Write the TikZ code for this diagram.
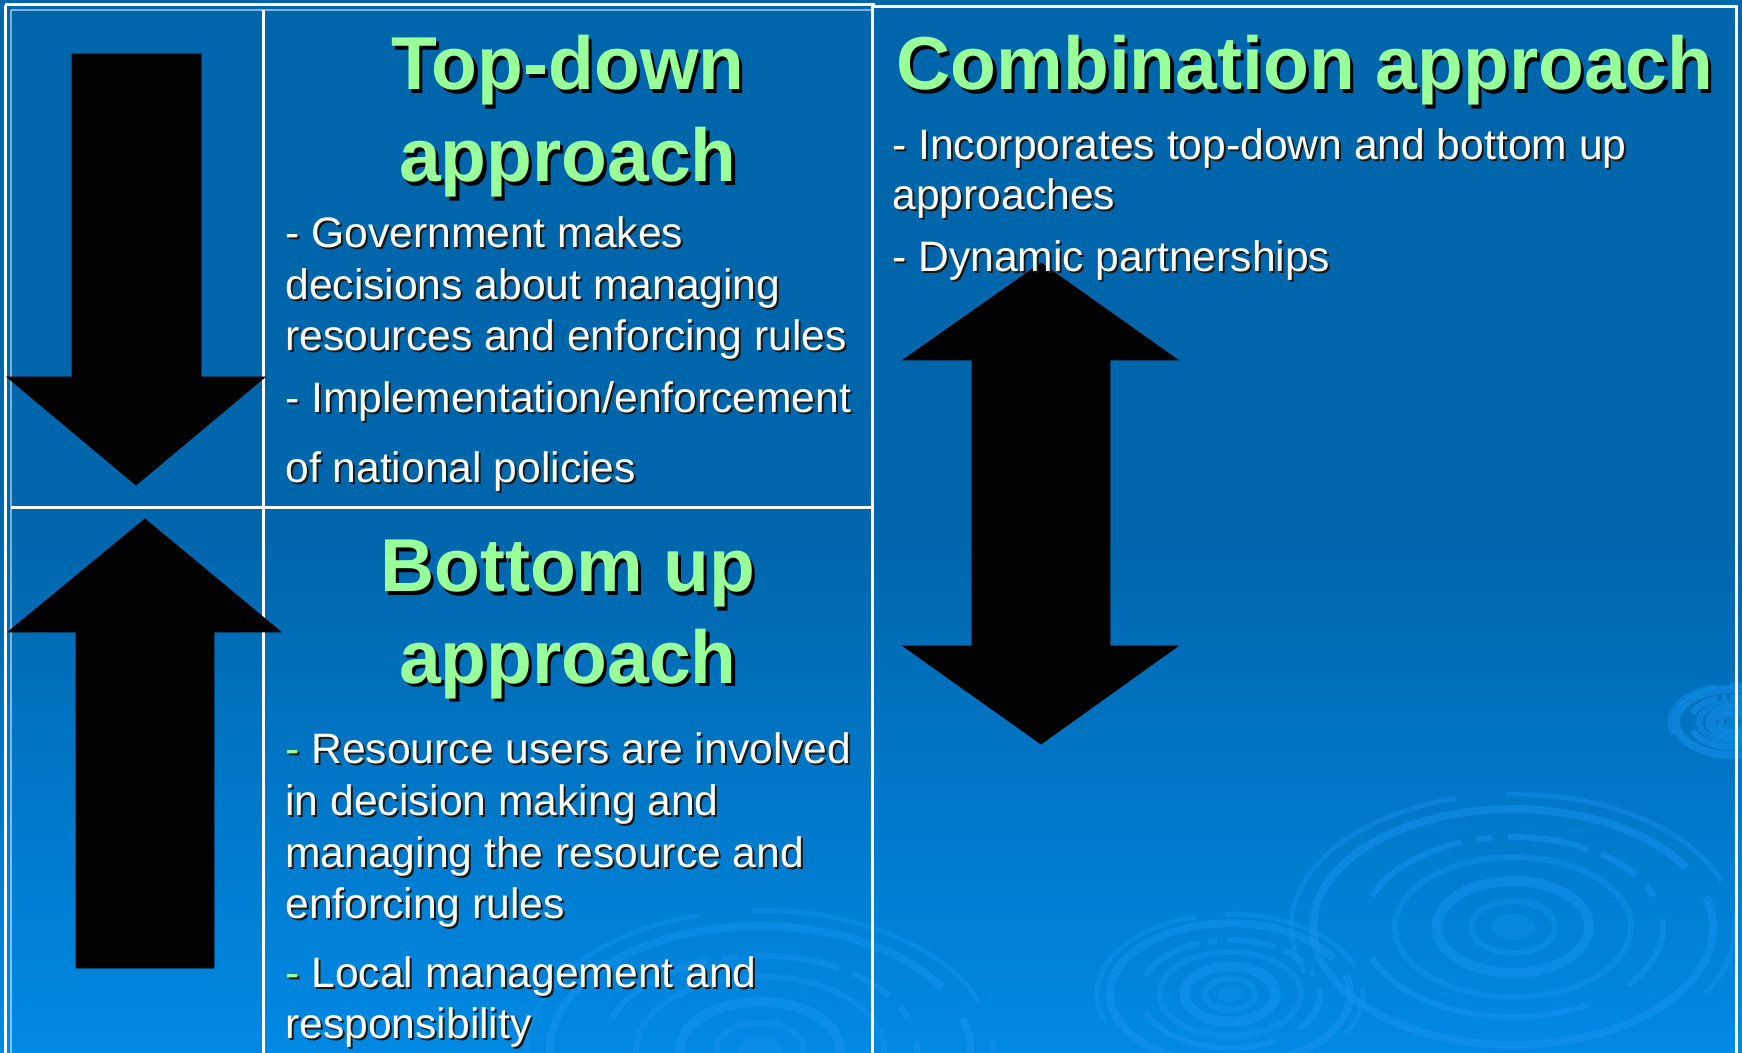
\documentclass[tikz,border=0pt]{standalone}
\usepackage{fontspec}
\setmainfont{Liberation Sans}
\definecolor{bgtop}{HTML}{0066AC}
\definecolor{bgbot}{HTML}{0089E4}
\definecolor{ttlgreen}{HTML}{99FF99}
\definecolor{ripc}{HTML}{1592EE}
\newcommand\grdash{\textcolor{ttlgreen}{-}}
\newcommand\ripset[3]{%
  \begin{scope}[shift={(#1,#2)},scale=#3]
    \fill[ripc,opacity=.35] (0,0) ellipse [x radius=22,y radius=13];
    \draw[ripc,opacity=.45,line width=3pt] (0,0) ellipse [x radius=42,y radius=26];
    \draw[ripc,opacity=.55,line width=5pt] (0,0) ellipse [x radius=76,y radius=46];
    \draw[ripc,opacity=.45,line width=3pt] (0,0) ellipse [x radius=118,y radius=70];
    \draw[ripc,opacity=.55,line width=3pt] (0,0) ++(200:150 and 90) arc [start angle=200,end angle=250,x radius=150,y radius=90];
    \draw[ripc,opacity=.55,line width=3pt] (0,0) ++(256:150 and 90) arc [start angle=256,end angle=262,x radius=150,y radius=90];
    \draw[ripc,opacity=.55,line width=3pt] (0,0) ++(268:150 and 90) arc [start angle=268,end angle=300,x radius=150,y radius=90];
    \draw[ripc,opacity=.55,line width=3pt] (0,0) ++(306:150 and 90) arc [start angle=306,end angle=325,x radius=150,y radius=90];
    \draw[ripc,opacity=.55,line width=3pt] (0,0) ++(333:150 and 90) arc [start angle=333,end angle=340,x radius=150,y radius=90];
    \draw[ripc,opacity=.55,line width=3pt] (0,0) ++(-5:150 and 90) arc [start angle=-5,end angle=40,x radius=150,y radius=90];
    \draw[ripc,opacity=.55,line width=3pt] (0,0) ++(60:150 and 90) arc [start angle=60,end angle=160,x radius=150,y radius=90];
    \draw[ripc,opacity=.55,line width=4pt] (0,0) ++(-15:200 and 118) arc [start angle=-15,end angle=330,x radius=200,y radius=118];
    \draw[ripc,opacity=.45,line width=2.5pt] (0,0) ++(160:222 and 133) arc [start angle=160,end angle=255,x radius=222,y radius=133];
    \draw[ripc,opacity=.45,line width=2.5pt] (0,0) ++(268:222 and 133) arc [start angle=268,end angle=340,x radius=222,y radius=133];
    \draw[ripc,opacity=.45,line width=2.5pt] (0,0) ++(355:222 and 133) arc [start angle=355,end angle=390,x radius=222,y radius=133];
  \end{scope}}
\begin{document}
\begin{tikzpicture}[x=0.5pt,y=-0.5pt,
  body/.style={anchor=base west,inner sep=0pt,text=white,font=\fontsize{21.3pt}{25pt}\selectfont},
  bodysh/.style={body,text=black!90,xshift=1pt,yshift=-1pt,execute at begin node={\def\grdash{-}}},
  ttl/.style={anchor=base,inner sep=0pt,text=ttlgreen,font=\fontsize{37.5pt}{45pt}\selectfont\bfseries},
  ttlsh/.style={ttl,text=black,xshift=1.6pt,yshift=-1.6pt},
  grid/.style={white,line width=1.5pt},
  gridthin/.style={white,opacity=.5,line width=.6pt},
  bigarrow/.style={fill=black,draw=black,line width=.4pt,line join=miter}]
\useasboundingbox (0,0) rectangle (1742,1053);
% background
\fill[bgtop] (0,0) rectangle (1742,1053);
\shade[top color=bgtop,bottom color=bgbot] (0,540) rectangle (1742,1053);
\begin{scope}
  \clip (0,0) rectangle (1742,1053);
  \ripset{1513}{927}{1}
  \ripset{1230}{994}{0.6}
  \ripset{1732}{722}{0.28}
  \ripset{760}{1050}{1.05}
\end{scope}
% table lines
\draw[grid] (5,5) -- (875,5);
\draw[grid] (5,5) -- (5,1053);
\draw[gridthin] (11,10) -- (873,10);
\draw[gridthin] (11,10) -- (11,1053);
\draw[grid] (263,10) -- (263,1053);
\draw[grid] (11,508) -- (873,508);
\draw[grid] (872,5) -- (872,1053);
\draw[grid] (873,7) -- (1736,7) -- (1736,1053);
% arrows
\filldraw[bigarrow] (72,54) -- (201,54) -- (201,377) -- (265,377) -- (136,485) -- (7,377) -- (72,377) -- cycle;
\filldraw[bigarrow] (145,519) -- (281,632) -- (214,632) -- (214,968) -- (76,968) -- (76,632) -- (8,632) -- cycle;
\filldraw[bigarrow] (1041,263) -- (1178,360) -- (1110,360) -- (1110,646) -- (1178,646) -- (1041,744) -- (903,646) -- (972,646) -- (972,360) -- (903,360) -- cycle;
% titles
\node[ttlsh] at (568,90) {Top-down};
\node[ttl] (td1) at (568,90) {Top-down};
\node[ttlsh] at (568,182) {approach};
\node[ttl] (td2) at (568,182) {approach};
\node[ttlsh] at (568,592) {Bottom up};
\node[ttl] (bu1) at (568,592) {Bottom up};
\node[ttlsh] at (568,683) {approach};
\node[ttl] (bu2) at (568,683) {approach};
\node[ttlsh] at (1305,90) {Combination approach};
\node[ttl] (cb) at (1305,90) {Combination approach};
% top-down body
\foreach \n/\yy/\t in {a/248/{- Government makes},b/300/{decisions about managing},c/351/{resources and enforcing rules},d/413/{- Implementation/enforcement},e/483/{of national policies}}{
  \node[bodysh] at (285,\yy) {\t};
  \node[body] (td\n) at (285,\yy) {\t};
}
% bottom-up body
\foreach \n/\yy/\t in {a/763/{\grdash{} Resource users are involved},b/815/{in decision making and},c/867/{managing the resource and},d/918/{enforcing rules},e/987/{\grdash{} Local management and},f/1038/{responsibility}}{
  \node[bodysh] at (285,\yy) {\t};
  \node[body] (bu\n) at (285,\yy) {\t};
}
% combination body
\foreach \n/\yy/\t in {a/160/{- Incorporates top-down and bottom up},b/210/{approaches},c/272/{- Dynamic partnerships}}{
  \node[bodysh] at (892,\yy) {\t};
  \node[body] (cb\n) at (892,\yy) {\t};
}
\end{tikzpicture}
\end{document}
